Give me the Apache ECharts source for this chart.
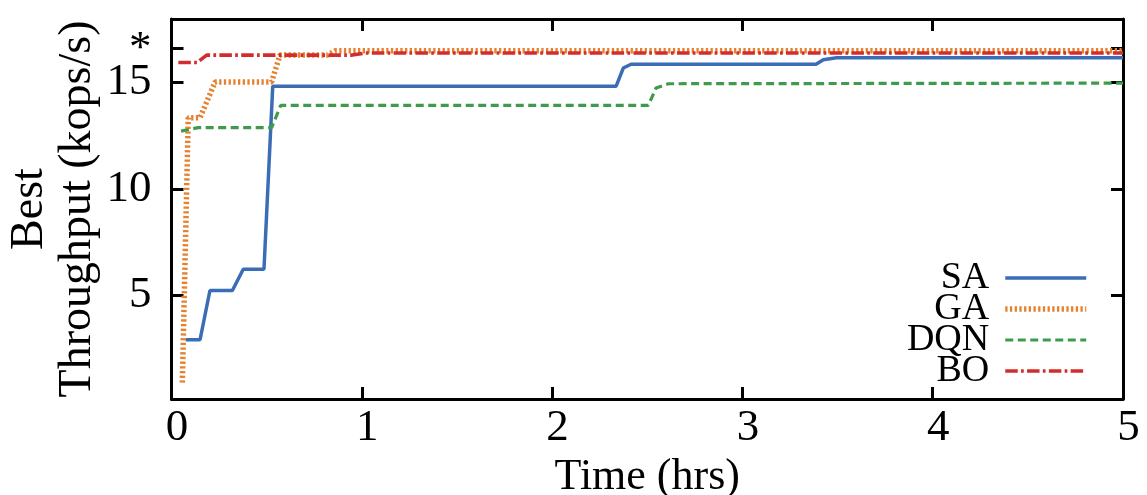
<!DOCTYPE html>
<html><head><meta charset="utf-8">
<script src="https://cdn.jsdelivr.net/npm/echarts@6/dist/echarts.min.js"></script>
<style>html,body{margin:0;padding:0;background:#fff}#c{width:1147px;height:495px}</style>
</head><body><div id="c"></div>
<script>
const seriesNames = ['SA', 'GA', 'DQN', 'BO'];
const saTime = [0.075, 0.15, 0.202, 0.32, 0.377, 0.486, 0.532, 2.336, 2.374, 2.415, 3.387, 3.425, 3.495, 5.0];
const saValue = [2.89, 2.89, 5.21, 5.21, 6.21, 6.21, 14.83, 14.83, 15.69, 15.87, 15.87, 16.08, 16.17, 16.17];
const gaTime = [0.057, 0.088, 0.15, 0.229, 0.526, 0.570, 0.82, 0.86, 5.0];
const gaValue = [0.87, 13.35, 13.35, 15.03, 15.03, 16.3, 16.3, 16.5, 16.5];
const dqnTime = [0.05, 0.14, 0.526, 0.574, 2.506, 2.546, 2.611, 5.0];
const dqnValue = [12.72, 12.88, 12.88, 13.93, 13.93, 14.75, 14.95, 14.98];
const boTime = [0.036, 0.135, 0.185, 0.95, 1.02, 5.0];
const boValue = [15.95, 15.95, 16.3, 16.3, 16.4, 16.4];
const xTicks = [0, 1, 2, 3, 4, 5];
const yTicks = [5, 10, 15];
const optimumTick = [16.6];
const optimumLabel = '*';

const zip = (a, b) => a.map((v, i) => [v, b[i]]);
const font = 'Liberation Serif';
const chart = echarts.init(document.getElementById('c'), null, {renderer: 'canvas'});
const axisLineStyle = {lineStyle: {color: '#000', width: 3}};
const tickStyle = {inside: true, length: 12, lineStyle: {color: '#000', width: 3}};
const allYTicks = yTicks.concat(optimumTick);

chart.setOption({
  animation: false,
  backgroundColor: '#fff',
  grid: {left: 171.5, right: 24, top: 19, bottom: 96, containLabel: false, outerBoundsMode: 'none'},
  legend: {
    data: seriesNames, orient: 'vertical', align: 'right',
    right: 58, top: 259, padding: 0, itemGap: -7,
    itemWidth: 81, itemHeight: 14,
    itemStyle: {opacity: 0},
    lineStyle: {width: 'inherit'},
    textStyle: {fontFamily: font, fontSize: 38, color: '#000', padding: [0, 11, 0, 0]}
  },
  xAxis: [{
    type: 'value', min: 0, max: 5, interval: 1, position: 'bottom',
    name: 'Time (hrs)', nameLocation: 'middle', nameGap: 51,
    nameTextStyle: {fontFamily: font, fontSize: 44, color: '#000'},
    axisLine: {onZero: false, ...axisLineStyle}, axisTick: tickStyle,
    axisLabel: {fontFamily: font, fontSize: 45, color: '#000', margin: 7, padding: [0, 0, 0, 11],
      customValues: xTicks, hideOverlap: false},
    splitLine: {show: false}
  }, {
    type: 'value', min: 0, max: 5, interval: 1, position: 'top',
    axisLine: {onZero: false, ...axisLineStyle}, axisTick: tickStyle,
    axisLabel: {show: false}, splitLine: {show: false}
  }],
  yAxis: [{
    type: 'value', min: 0.1, max: 18, position: 'left',
    name: 'Best\nThroughput (kops/s)', nameLocation: 'middle', nameGap: 70, nameRotate: 90,
    nameMoveOverlap: false,
    nameTextStyle: {fontFamily: font, fontSize: 46, color: '#000', lineHeight: 48},
    axisLine: {onZero: false, ...axisLineStyle},
    axisTick: {...tickStyle, customValues: allYTicks},
    axisLabel: {fontFamily: font, fontSize: 45, color: '#000', margin: 20,
      customValues: yTicks, hideOverlap: false},
    splitLine: {show: false}
  }, {
    type: 'value', min: 0.1, max: 18, position: 'right',
    axisLine: {onZero: false, ...axisLineStyle},
    axisTick: {...tickStyle, customValues: allYTicks},
    axisLabel: {show: false}, splitLine: {show: false}
  }, {
    type: 'value', min: 0.1, max: 18, position: 'left', offset: 0,
    axisLine: {show: false}, axisTick: {show: false}, splitLine: {show: false},
    axisLabel: {fontFamily: font, fontSize: 45, color: '#000', margin: 20,
      customValues: optimumTick, formatter: () => optimumLabel, hideOverlap: false}
  }],
  series: [
    {name: 'SA', type: 'line', data: zip(saTime, saValue), symbol: 'none',
      lineStyle: {color: '#3b6db7', width: 3.5, type: 'solid'}, itemStyle: {color: '#3b6db7'}},
    {name: 'GA', type: 'line', data: zip(gaTime, gaValue), symbol: 'none',
      lineStyle: {color: '#e5812f', width: 5.5, type: [2.3, 2.4]}, itemStyle: {color: '#e5812f'}},
    {name: 'DQN', type: 'line', data: zip(dqnTime, dqnValue), symbol: 'none',
      lineStyle: {color: '#3d9b4b', width: 3.2, type: [8, 4.5]}, itemStyle: {color: '#3d9b4b'}},
    {name: 'BO', type: 'line', data: zip(boTime, boValue), symbol: 'none',
      lineStyle: {color: '#d42c2c', width: 3.6, type: [12.5, 3.3, 2.7, 3.3]}, itemStyle: {color: '#d42c2c'}}
  ]
});
</script></body></html>
